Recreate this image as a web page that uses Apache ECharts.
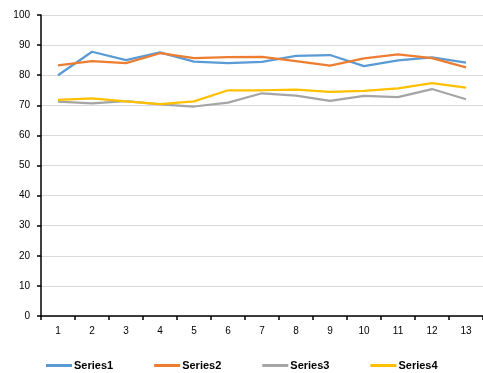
<!DOCTYPE html>
<html><head><meta charset="utf-8">
<script src="https://cdn.jsdelivr.net/npm/echarts@6/dist/echarts.min.js"></script>
<style>html,body{margin:0;padding:0;background:#fff}#c{width:483px;height:373px}</style>
</head><body><div id="c"></div>
<script>
const categories = ['1','2','3','4','5','6','7','8','9','10','11','12','13'];
const series1 = [80.0, 87.8, 85.0, 87.6, 84.5, 84.0, 84.4, 86.4, 86.7, 83.0, 84.9, 85.9, 84.2];
const series2 = [83.3, 84.7, 84.0, 87.3, 85.7, 86.0, 86.1, 84.7, 83.2, 85.6, 86.9, 85.7, 82.6];
const series3 = [71.2, 70.6, 71.4, 70.3, 69.6, 70.9, 74.0, 73.2, 71.5, 73.1, 72.7, 75.4, 72.0];
const series4 = [71.8, 72.3, 71.3, 70.4, 71.3, 75.0, 75.0, 75.2, 74.5, 74.8, 75.6, 77.4, 75.9];
const seriesNames = ['Series1','Series2','Series3','Series4'];
const colors = ['#5B9BD5','#ED7D31','#A5A5A5','#FFC000'];
const yTicks = {min: 0, max: 100, interval: 10};

const chart = echarts.init(document.getElementById('c'));
const font = 'Liberation Sans, Arial, sans-serif';
const data = [series1, series2, series3, series4];
chart.setOption({
  animation: false,
  color: colors,
  grid: {left: 41, top: 15, right: -8, bottom: 57, containLabel: false},
  xAxis: {
    type: 'category', data: categories, boundaryGap: true,
    axisLine: {lineStyle: {color: '#000', width: 1.5}},
    axisTick: {show: true, length: 4, lineStyle: {color: '#000', width: 1.5}},
    axisLabel: {color: '#000', fontSize: 10, fontFamily: font, margin: 10},
    splitLine: {show: false}
  },
  yAxis: {
    type: 'value', min: yTicks.min, max: yTicks.max, interval: yTicks.interval,
    axisLine: {show: true, lineStyle: {color: '#000', width: 1.5}},
    axisTick: {show: true, length: 4, lineStyle: {color: '#000', width: 1.5}},
    axisLabel: {color: '#000', fontSize: 10, fontFamily: font, margin: 11},
    splitLine: {show: true, lineStyle: {color: '#d9d9d9', width: 1}}
  },
  legend: {
    bottom: -3, left: 41, itemGap: 41,
    icon: 'rect', itemWidth: 26, itemHeight: 3,
    textStyle: {color: '#000', fontSize: 11, fontWeight: 'bold', fontFamily: font, padding: [0,0,0,-3]},
    data: seriesNames
  },
  series: data.map((d, i) => ({
    name: seriesNames[i], type: 'line', data: d,
    showSymbol: false, symbol: 'none',
    lineStyle: {width: 2.25, color: colors[i]},
    itemStyle: {color: colors[i]}
  }))
});
</script></body></html>
